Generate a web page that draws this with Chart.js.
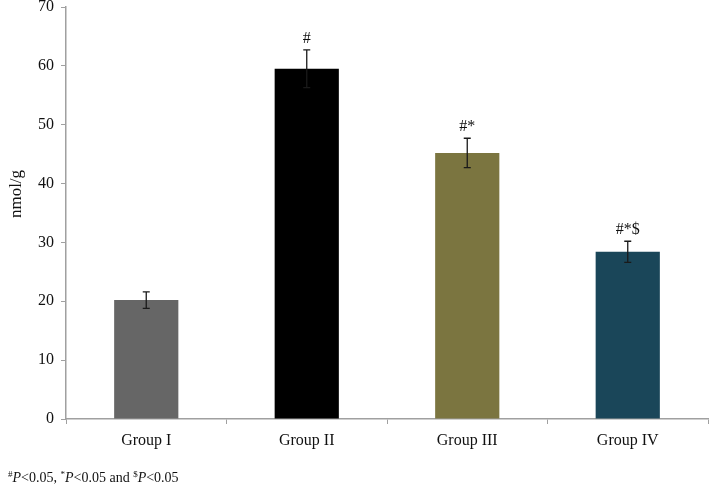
<!DOCTYPE html>
<html>
<head>
<meta charset="utf-8">
<script src="https://cdn.jsdelivr.net/npm/chart.js@4"></script>
<style>
  html, body { margin: 0; padding: 0; background: #fff; }
  #wrap { position: relative; width: 709px; height: 488px; }
  #foot { position: absolute; left: 8px; top: 470px; font-family: "Liberation Serif", "Times New Roman", serif; font-size: 14px; color: #111; white-space: nowrap; }
  #foot sup { font-size: 9px; vertical-align: 5px; line-height: 0; }
</style>
</head>
<body>
<div id="wrap">
  <canvas id="c" width="709" height="488"></canvas>
  <div id="foot"><sup>#</sup><i>P</i>&lt;0.05, <sup>*</sup><i>P</i>&lt;0.05 and <sup>$</sup><i>P</i>&lt;0.05</div>
</div>
<script>
const categories = ["Group I", "Group II", "Group III", "Group IV"];
const means = [20.2, 59.5, 45.2, 28.4];
const errors = [1.4, 3.2, 2.5, 1.8];
const marks = ["", "#", "#*", "#*$"];
const barColors = ["#666666", "#000000", "#7b7540", "#1a4659"];
const yTicks = [0, 10, 20, 30, 40, 50, 60, 70];
const yTitle = "nmol/g";

const serif = "'Liberation Serif', 'Times New Roman', serif";

const errorBarPlugin = {
  id: 'errorBars',
  afterDatasetsDraw(chart) {
    const ctx = chart.ctx;
    const meta = chart.getDatasetMeta(0);
    const y = chart.scales.y;
    ctx.save();
    meta.data.forEach((bar, i) => {
      const x = bar.x;
      const top = y.getPixelForValue(means[i] + errors[i]);
      const bot = y.getPixelForValue(means[i] - errors[i]);
      ctx.strokeStyle = "#1a1a1a";
      ctx.lineWidth = 1.3;
      ctx.beginPath();
      ctx.moveTo(x, top); ctx.lineTo(x, bot);
      ctx.moveTo(x - 3.5, top); ctx.lineTo(x + 3.5, top);
      ctx.moveTo(x - 3.5, bot); ctx.lineTo(x + 3.5, bot);
      ctx.stroke();
      if (marks[i]) {
        ctx.fillStyle = "#111";
        ctx.font = "16px " + serif;
        ctx.textAlign = "center";
        ctx.textBaseline = "alphabetic";
        ctx.fillText(marks[i], x, top - 7);
      }
    });
    // y axis title
    ctx.translate(17, 194);
    ctx.rotate(-Math.PI / 2);
    ctx.fillStyle = "#111";
    ctx.font = "17px " + serif;
    ctx.textAlign = "center";
    ctx.textBaseline = "middle";
    ctx.fillText(yTitle, 0, 0);
    ctx.restore();
  }
};

new Chart(document.getElementById('c'), {
  type: 'bar',
  data: {
    labels: categories,
    datasets: [{
      data: means,
      backgroundColor: barColors,
      borderWidth: 0,
      categoryPercentage: 1.0,
      barPercentage: 0.4
    }]
  },
  options: {
    responsive: false,
    animation: false,
    devicePixelRatio: 1,
    layout: { padding: { top: 7, right: 1, left: 0, bottom: 0 } },
    plugins: { legend: { display: false }, tooltip: { enabled: false } },
    scales: {
      x: {
        offset: true,
        grid: { display: true, drawOnChartArea: false, offset: true, color: "#a0a0a0", tickLength: 5, lineWidth: 1 },
        border: { display: true, color: "#a0a0a0", width: 1.5 },
        ticks: { color: "#111", font: { family: serif, size: 16 }, padding: 7 },
        afterFit(scale) { scale.height = 69; }
      },
      y: {
        min: 0, max: 70,
        afterBuildTicks(scale) { scale.ticks = yTicks.map(v => ({ value: v })); },
        grid: { display: true, drawOnChartArea: false, color: "#a0a0a0", tickLength: 5, lineWidth: 1 },
        border: { display: true, color: "#a0a0a0", width: 1.5 },
        ticks: { color: "#111", font: { family: serif, size: 16, lineHeight: 0.1 }, padding: 7 },
        afterFit(scale) { scale.width = 66; scale.paddingTop = 0; scale.paddingBottom = 0; }
      }
    }
  },
  plugins: [errorBarPlugin]
});
</script>
</body>
</html>
